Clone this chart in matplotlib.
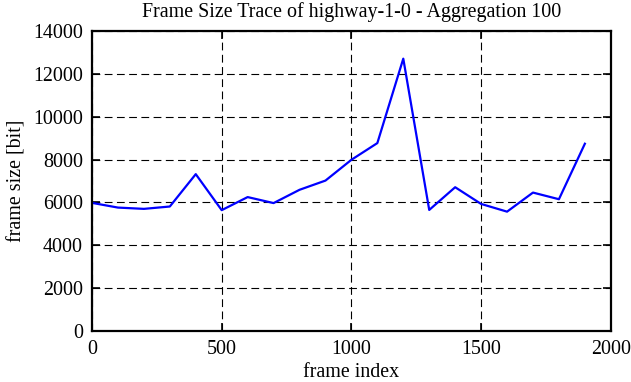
import matplotlib
matplotlib.use("Agg")
import matplotlib.pyplot as plt
import numpy as np

# frame trace, aggregated every 100 frames
frame_index = np.arange(0, 2000, 100)
frame_size = [5980, 5760, 5700, 5810, 7320, 5640, 6250, 5970, 6590, 7020,
              7990, 8770, 12710, 5650, 6710, 5930, 5570, 6460, 6150, 8740]

xticks = [0, 500, 1000, 1500, 2000]
yticks = list(range(0, 14001, 2000))

plt.rcParams['font.family'] = ['Liberation Serif', 'DejaVu Serif']
plt.rcParams['font.size'] = 14.4

fig = plt.figure(figsize=(6.31, 3.82), dpi=100)
ax = fig.add_axes([0.1458, 0.1335, 0.8222, 0.7853])

ax.plot(frame_index, frame_size, color='#0000ff', lw=1.6)

ax.set_xlim(0, 2000)
ax.set_ylim(0, 14000)
ax.set_xticks(xticks)
ax.set_yticks(yticks)
ax.grid(True, color='black', linestyle=(0, (7, 4)), lw=0.8)
ax.tick_params(direction='in', top=True, right=True, length=5.5, width=1.2, pad=6.5)
for s in ax.spines.values():
    s.set_linewidth(1.6)

ax.set_title("Frame Size Trace of highway-1-0 - Aggregation 100", fontsize=14.4, pad=10)
ax.set_xlabel("frame index", labelpad=3)
ax.set_ylabel("frame size [bit]", labelpad=5)

fig.savefig("out.png", dpi=100)
